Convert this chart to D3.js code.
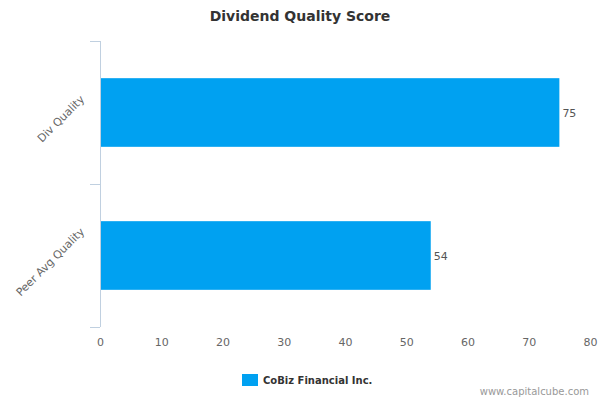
<!DOCTYPE html>
<html>
<head>
<meta charset="utf-8">
<script src="https://cdn.jsdelivr.net/npm/d3@7"></script>
<style>
  body { margin: 0; background: #fff; }
  text { font-family: "DejaVu Sans", Verdana, sans-serif; }
</style>
</head>
<body>
<div id="chartContainer"></div>
<script>
var categories = ["Div Quality", "Peer Avg Quality"];
var scores = [75, 54];
var xTicks = [0, 10, 20, 30, 40, 50, 60, 70, 80];
var seriesName = "CoBiz Financial Inc.";

var margin = { top: 41, right: 10, bottom: 73, left: 100 };
var width = 600 - margin.left - margin.right;
var height = 400 - margin.top - margin.bottom;

var svg = d3.select("#chartContainer")
  .append("svg")
  .attr("width", 600)
  .attr("height", 400);

var g = svg.append("g")
  .attr("transform", "translate(" + margin.left + "," + margin.top + ")");

var x = d3.scaleLinear().domain([0, 80]).range([0, width]);
var y = d3.scaleBand().domain(categories).range([0, height]).paddingInner(0.52).paddingOuter(0.26);
var band = d3.scaleBand().domain(categories).range([0, height]);

// bottom tick labels (no axis line)
var xAxis = g.append("g")
  .attr("transform", "translate(0," + height + ")")
  .call(d3.axisBottom(x).tickValues(xTicks).tickSize(0).tickPadding(11));
xAxis.select(".domain").remove();
xAxis.selectAll("text").attr("fill", "#666").attr("font-size", "11px");

// left axis line with category separators
g.append("line")
  .attr("x1", 0.5).attr("x2", 0.5)
  .attr("y1", 0).attr("y2", height)
  .attr("stroke", "#c0d0e0");
var sepYs = categories.map(function(c) { return band(c); }).concat([height]);
g.selectAll(".sep")
  .data(sepYs)
  .enter().append("line")
  .attr("x1", -10).attr("x2", 0)
  .attr("y1", function(d) { return Math.round(d) + 0.5; })
  .attr("y2", function(d) { return Math.round(d) + 0.5; })
  .attr("stroke", "#c0d0e0");

// category labels rotated
g.selectAll(".cat")
  .data(categories)
  .enter().append("text")
  .attr("class", "cat")
  .attr("fill", "#666")
  .attr("font-size", "11px")
  .attr("text-anchor", "middle")
  .text(function(d) { return d; })
  .each(function(d) {
    var L = this.getComputedTextLength();
    var cx = -15 - L * 0.3536;
    var cy = band(d) + band.bandwidth() / 2 + 9;
    d3.select(this).attr("transform", "translate(" + cx + "," + cy + ") rotate(-45)");
  });

// bars
g.selectAll(".bar")
  .data(scores)
  .enter().append("rect")
  .attr("class", "bar")
  .attr("x", 1)
  .attr("y", function(d, i) { return y(categories[i]); })
  .attr("width", function(d) { return x(d) - 1; })
  .attr("height", y.bandwidth())
  .attr("fill", "#00a1f1");

// value labels
g.selectAll(".value")
  .data(scores)
  .enter().append("text")
  .attr("class", "value")
  .attr("x", function(d) { return x(d) + 3; })
  .attr("y", function(d, i) { return y(categories[i]) + y.bandwidth() / 2 + 4; })
  .attr("fill", "#555")
  .attr("font-size", "11px")
  .text(function(d) { return d; });

// title
svg.append("text")
  .attr("x", 300)
  .attr("y", 21)
  .attr("text-anchor", "middle")
  .attr("font-size", "14px")
  .attr("font-weight", "bold")
  .attr("fill", "#333")
  .text("Dividend Quality Score");

// legend
svg.append("rect")
  .attr("x", 242).attr("y", 374)
  .attr("width", 16).attr("height", 12)
  .attr("fill", "#00a1f1");
svg.append("text")
  .attr("x", 263).attr("y", 384)
  .attr("font-size", "10px")
  .attr("font-weight", "bold")
  .attr("fill", "#333")
  .text(seriesName);

// credit
svg.append("text")
  .attr("x", 589).attr("y", 395)
  .attr("text-anchor", "end")
  .attr("font-size", "10px")
  .attr("fill", "#999")
  .text("www.capitalcube.com");
</script>
</body>
</html>
